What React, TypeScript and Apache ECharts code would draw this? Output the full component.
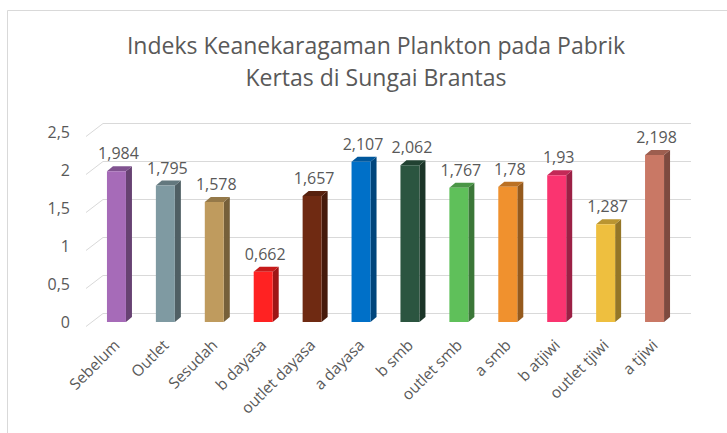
import React, { useEffect, useRef } from "react";
import * as echarts from "echarts";

const titleText = "Indeks Keanekaragaman Plankton pada Pabrik\nKertas di Sungai Brantas";

const categories = [
  "Sebelum", "Outlet", "Sesudah", "b dayasa", "outlet dayasa", "a dayasa",
  "b smb", "outlet smb", "a smb", "b atjiwi", "outlet tjiwi", "a tjiwi",
];

const values = [1.984, 1.795, 1.578, 0.662, 1.657, 2.107, 2.062, 1.767, 1.78, 1.93, 1.287, 2.198];

const barColors = [
  "#A66BB8", "#7F9AA2", "#BF9B5E", "#FF2222", "#6F2A12", "#0070C8",
  "#2B5540", "#5FC05A", "#F0912E", "#FA3470", "#EEBF3F", "#C97865",
];

const yTicks = [0, 0.5, 1, 1.5, 2, 2.5];

const FONT = "'Open Sans', sans-serif";
const TEXT = "#595959";
const GRID = "#D9D9D9";

function shade(hex: string, f: number): string {
  const n = parseInt(hex.slice(1), 16);
  const r = Math.round(((n >> 16) & 255) * f);
  const g = Math.round(((n >> 8) & 255) * f);
  const b = Math.round((n & 255) * f);
  return "rgb(" + r + "," + g + "," + b + ")";
}

const fmt = (v: number) => String(v).replace(".", ",");

export default function App() {
  const ref = useRef<HTMLDivElement>(null);
  useEffect(() => {
    if (!ref.current) return;
    const chart = echarts.init(ref.current, undefined, { renderer: "svg" });
    const W = 19, DX = 6, DY = 5;
    chart.setOption({
      animation: false,
      backgroundColor: "#FFFFFF",
      textStyle: { fontFamily: FONT },
      title: {
        text: titleText,
        left: 371,
        top: 24,
        textAlign: "center",
        textStyle: { fontFamily: FONT, fontSize: 23, fontWeight: "normal", color: TEXT, lineHeight: 32 },
      },
      graphic: [
        {
          type: "rect",
          shape: { x: 7.5, y: 10.5, width: 760, height: 460 },
          style: { fill: "none", stroke: GRID, lineWidth: 1 },
          silent: true,
        },
      ],
      grid: { left: 92, right: 48, top: 132, bottom: 111 },
      xAxis: {
        type: "category",
        data: categories,
        axisLine: { show: false },
        axisTick: { show: false },
        splitLine: { show: false },
        axisLabel: { rotate: 45, interval: 0, fontSize: 15.5, color: TEXT, margin: 20, fontFamily: FONT },
      },
      yAxis: {
        type: "value",
        min: 0,
        max: 2.5,
        interval: 0.5,
        axisLine: { show: false },
        axisTick: { show: false },
        splitLine: { show: false },
        axisLabel: {
          fontSize: 16,
          color: TEXT,
          margin: 22,
          fontFamily: FONT,
          padding: [8, 0, 0, 0],
          formatter: (v: number) => fmt(v),
        },
      },
      series: [
        {
          type: "custom",
          z: 1,
          silent: true,
          clip: false,
          data: yTicks.map((v) => [0, v]),
          encode: { x: 0, y: 1 },
          renderItem: (params: any, api: any) => {
            const cs = params.coordSys;
            const y = Math.round(api.coord([0, api.value(1)])[1]);
            return {
              type: "polyline",
              shape: {
                points: [
                  [cs.x - 6, y + 4.5],
                  [cs.x + 11, y - 8.5],
                  [cs.x + cs.width + 12, y - 8.5],
                ],
              },
              style: { stroke: GRID, lineWidth: 1, fill: "none" },
            };
          },
        },
        {
          type: "custom",
          z: 2,
          clip: false,
          data: values.map((v, i) => [i, v]),
          encode: { x: 0, y: 1 },
          renderItem: (params: any, api: any) => {
            const i = api.value(0);
            const v = api.value(1);
            const base = api.coord([i, 0]);
            const top = api.coord([i, v]);
            const c = barColors[params.dataIndex];
            const x0 = top[0] - W / 2;
            const x1 = top[0] + W / 2;
            const yt = top[1];
            const yb = base[1];
            return {
              type: "group",
              children: [
                {
                  type: "polygon",
                  shape: { points: [[x1, yt], [x1 + DX, yt - DY], [x1 + DX, yb - DY], [x1, yb]] },
                  style: { fill: shade(c, 0.62) },
                },
                {
                  type: "polygon",
                  shape: { points: [[x0, yt], [x0 + DX, yt - DY], [x1 + DX, yt - DY], [x1, yt]] },
                  style: { fill: shade(c, 0.78) },
                },
                {
                  type: "rect",
                  shape: { x: x0, y: yt, width: W, height: yb - yt },
                  style: { fill: c },
                },
                {
                  type: "text",
                  x: top[0] + 2,
                  y: yt - DY - 5,
                  style: {
                    text: fmt(v),
                    fill: TEXT,
                    fontSize: 16,
                    fontFamily: FONT,
                    align: "center",
                    verticalAlign: "bottom",
                  },
                },
              ],
            };
          },
        },
      ],
    });
    return () => chart.dispose();
  }, []);
  return (
    <div
      ref={ref}
      style={{ position: "fixed", left: 0, top: 0, width: 727, height: 433, background: "#fff" }}
    />
  );
}
